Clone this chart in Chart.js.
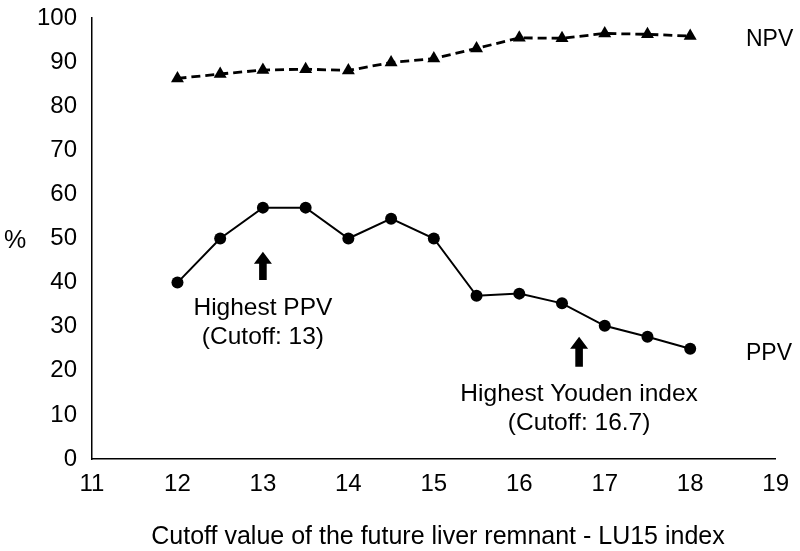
<!DOCTYPE html>
<html>
<head>
<meta charset="utf-8">
<script src="https://cdn.jsdelivr.net/npm/chart.js@4"></script>
<style>
html,body{margin:0;padding:0;background:#fff;}
#wrap{width:800px;height:551px;position:relative;}
</style>
</head>
<body>
<div id="wrap"><canvas id="c" width="800" height="551"></canvas></div>
<script>
const cutoffs = [12, 12.5, 13, 13.5, 14, 14.5, 15, 15.5, 16, 16.5, 17, 17.5, 18];
const ppvValues = [40, 50, 57, 57, 50, 54.5, 50, 37, 37.5, 35.3, 30.2, 27.7, 25];
const npvValues = [86.3, 87.3, 88.2, 88.4, 88.1, 89.9, 90.8, 93.1, 95.5, 95.4, 96.5, 96.3, 95.9];
const xTicks = [11, 12, 13, 14, 15, 16, 17, 18, 19];
const yTicks = [0, 10, 20, 30, 40, 50, 60, 70, 80, 90, 100];
const xTitle = 'Cutoff value of the future liver remnant - LU15 index';
const yTitle = '%';
const annotations = [
  {x: 13, tip: 47, base: 40.6, lines: ['Highest PPV', '(Cutoff: 13)'], textY: 34.2},
  {x: 16.7, tip: 27.7, base: 20.9, lines: ['Highest Youden index', '(Cutoff: 16.7)'], textY: 14.7}
];

const FONT = '"Liberation Sans", Arial, sans-serif';

const annoPlugin = {
  id: 'anno',
  afterDraw(chart) {
    const ctx = chart.ctx;
    const xs = chart.scales.x, ys = chart.scales.y;
    ctx.save();
    ctx.fillStyle = '#000';
    ctx.font = '24.5px ' + FONT;
    ctx.textBaseline = 'middle';
    annotations.forEach(a => {
      const px = xs.getPixelForValue(a.x);
      const tipY = ys.getPixelForValue(a.tip);
      const baseY = ys.getPixelForValue(a.base);
      const headH = 12, headW = 9, shaftW = 3.8;
      ctx.beginPath();
      ctx.moveTo(px, tipY);
      ctx.lineTo(px + headW, tipY + headH);
      ctx.lineTo(px + shaftW, tipY + headH);
      ctx.lineTo(px + shaftW, baseY);
      ctx.lineTo(px - shaftW, baseY);
      ctx.lineTo(px - shaftW, tipY + headH);
      ctx.lineTo(px - headW, tipY + headH);
      ctx.closePath();
      ctx.fill();
      ctx.textAlign = 'center';
      const ty = ys.getPixelForValue(a.textY);
      a.lines.forEach((l, i) => ctx.fillText(l, px, ty + i * 29.5));
    });
    // series labels
    ctx.font = '23px ' + FONT;
    ctx.textAlign = 'left';
    const last = cutoffs.length - 1;
    ctx.fillText('NPV', 746, ys.getPixelForValue(npvValues[last]) + 4);
    ctx.fillText('PPV', 746, ys.getPixelForValue(ppvValues[last]) + 5);
    // axis titles
    ctx.font = '25px ' + FONT;
    ctx.textAlign = 'center';
    ctx.fillText(yTitle, 15, 241);
    ctx.fillText(xTitle, 438, 537);
    ctx.restore();
  }
};

new Chart(document.getElementById('c'), {
  type: 'line',
  data: {
    datasets: [
      {
        label: 'NPV',
        data: cutoffs.map((x, i) => ({x: x, y: npvValues[i]})),
        borderColor: '#000',
        backgroundColor: '#000',
        borderWidth: 2.8,
        borderDash: [9, 5],
        pointStyle: 'triangle',
        pointRadius: 7.5,
        pointBorderWidth: 0,
        fill: false,
        tension: 0
      },
      {
        label: 'PPV',
        data: cutoffs.map((x, i) => ({x: x, y: ppvValues[i]})),
        borderColor: '#000',
        backgroundColor: '#000',
        borderWidth: 2,
        pointStyle: 'circle',
        pointRadius: 6,
        pointBorderWidth: 0,
        fill: false,
        tension: 0
      }
    ]
  },
  options: {
    responsive: false,
    animation: false,
    devicePixelRatio: 1,
    layout: {padding: {left: 0, right: 20, top: 18, bottom: 0}},
    plugins: {legend: {display: false}, tooltip: {enabled: false}, title: {display: false}},
    scales: {
      x: {
        type: 'linear',
        min: xTicks[0], max: xTicks[xTicks.length - 1],
        afterBuildTicks(s) { s.ticks = xTicks.map(v => ({value: v})); },
        afterFit(s) { s.height = 92; },
        grid: {display: false, drawTicks: false},
        border: {display: true, color: '#000', width: 1.5},
        ticks: {color: '#000', font: {size: 24, family: FONT}, padding: 11, maxRotation: 0, autoSkip: false}
      },
      y: {
        type: 'linear',
        min: yTicks[0], max: yTicks[yTicks.length - 1],
        afterBuildTicks(s) { s.ticks = yTicks.map(v => ({value: v})); },
        afterFit(s) { s.width = 92; s.paddingTop = 0; s.paddingBottom = 0; },
        grid: {display: false, drawTicks: false},
        border: {display: true, color: '#000', width: 1.5},
        ticks: {color: '#000', font: {size: 24, family: FONT, lineHeight: 0.5}, padding: 15}
      }
    }
  },
  plugins: [annoPlugin]
});
</script>
</body>
</html>
